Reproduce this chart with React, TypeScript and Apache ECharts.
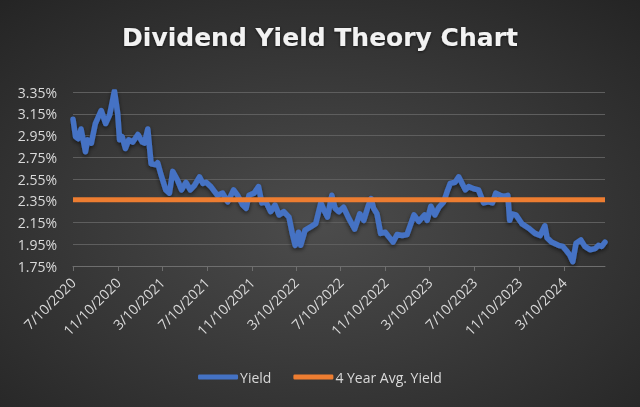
import React, { useEffect, useRef } from "react";
import * as echarts from "echarts";

const dates = [
  "2020-07-10","2020-07-17","2020-07-24","2020-08-01","2020-08-13","2020-08-19","2020-08-29","2020-09-09","2020-09-25","2020-10-07",
  "2020-10-18","2020-10-31","2020-11-09","2020-11-14","2020-11-21","2020-11-30","2020-12-09","2020-12-20","2021-01-03","2021-01-15",
  "2021-01-21","2021-01-30","2021-02-08","2021-02-22","2021-02-26","2021-03-07","2021-03-20","2021-03-30","2021-04-08","2021-04-21",
  "2021-05-02","2021-05-14","2021-05-26","2021-06-06","2021-06-20","2021-06-29","2021-07-08","2021-07-21","2021-08-08","2021-08-22",
  "2021-09-05","2021-09-21","2021-10-02","2021-10-16","2021-10-25","2021-11-02","2021-11-16","2021-11-28","2021-12-07","2021-12-18",
  "2021-12-31","2022-01-12","2022-01-23","2022-02-05","2022-02-19","2022-02-28","2022-03-08","2022-03-17","2022-03-23","2022-04-04",
  "2022-04-19","2022-05-03","2022-05-17","2022-05-26","2022-06-04","2022-06-16","2022-06-25","2022-07-05","2022-07-18","2022-08-01",
  "2022-08-17","2022-08-31","2022-09-11","2022-09-22","2022-10-01","2022-10-08","2022-10-17","2022-10-27","2022-11-09","2022-11-18",
  "2022-11-30","2022-12-11","2022-12-25","2023-01-07","2023-01-26","2023-02-08","2023-02-24","2023-03-03","2023-03-13","2023-03-24",
  "2023-04-04","2023-04-17","2023-04-26","2023-05-05","2023-05-18","2023-05-28","2023-06-06","2023-06-15","2023-06-24","2023-07-08",
  "2023-07-21","2023-08-04","2023-08-17","2023-08-28","2023-09-06","2023-09-18","2023-09-30","2023-10-09","2023-10-14","2023-10-20",
  "2023-10-31","2023-11-16","2023-12-04","2023-12-22","2024-01-05","2024-01-18","2024-01-24","2024-02-05","2024-02-24","2024-03-07",
  "2024-03-17","2024-03-26","2024-04-03","2024-04-12","2024-04-25","2024-05-06","2024-05-20","2024-06-03","2024-06-12","2024-06-21",
  "2024-06-30",
];

const yields = [
  3.10,2.94,2.92,3.01,2.80,2.91,2.88,3.06,3.18,3.06,
  3.14,3.36,3.15,2.91,2.94,2.83,2.91,2.89,2.96,2.89,
  2.88,3.01,2.69,2.68,2.70,2.59,2.45,2.42,2.62,2.54,
  2.45,2.52,2.45,2.49,2.57,2.51,2.52,2.48,2.40,2.42,
  2.34,2.45,2.40,2.31,2.28,2.40,2.42,2.48,2.33,2.34,
  2.25,2.31,2.22,2.25,2.20,2.05,1.94,2.06,1.94,2.08,
  2.11,2.14,2.33,2.26,2.20,2.40,2.28,2.25,2.29,2.19,
  2.09,2.23,2.17,2.29,2.37,2.28,2.23,2.05,2.06,2.02,
  1.97,2.04,2.03,2.04,2.22,2.16,2.22,2.17,2.30,2.22,
  2.29,2.34,2.43,2.51,2.52,2.57,2.51,2.45,2.48,2.46,
  2.45,2.33,2.34,2.33,2.42,2.40,2.39,2.40,2.17,2.23,
  2.22,2.14,2.10,2.05,2.03,2.12,2.01,1.97,1.94,1.93,
  1.89,1.85,1.79,1.96,1.99,1.93,1.90,1.91,1.94,1.93,
  1.97,
];

const avgYield = 2.36;

const tickDates = [
  "2020-07-10","2020-11-10","2021-03-10","2021-07-10","2021-11-10","2022-03-10",
  "2022-07-10","2022-11-10","2023-03-10","2023-07-10","2023-11-10","2024-03-10",
];

const yTicks = [1.75, 1.95, 2.15, 2.35, 2.55, 2.75, 2.95, 3.15, 3.35];

const toTime = (s: string) => {
  const [y, m, d] = s.split("-").map(Number);
  return new Date(y, m - 1, d).getTime();
};

export default function App() {
  const ref = useRef<HTMLDivElement>(null);

  useEffect(() => {
    if (!ref.current) return;
    const chart = echarts.init(ref.current, undefined, { renderer: "svg" });
    const font = "'Open Sans', sans-serif";
    const first = toTime(dates[0]);
    const last = toTime(dates[dates.length - 1]);
    const xTicks = tickDates.map(toTime);
    chart.setOption({
      animation: false,
      backgroundColor: {
        type: "radial",
        x: 0.5,
        y: 0.55,
        r: 0.75,
        colorStops: [
          { offset: 0, color: "#4c4c4c" },
          { offset: 1, color: "#242424" },
        ],
      },
      title: {
        text: "Dividend Yield Theory Chart",
        left: "center",
        top: 20,
        textStyle: {
          color: "#f2f2f2",
          fontFamily: "'DejaVu Sans', sans-serif",
          fontWeight: "bold",
          fontSize: 25,
          textShadowColor: "rgba(0,0,0,0.6)",
          textShadowBlur: 3,
          textShadowOffsetY: 1,
        },
      },
      legend: {
        bottom: 18,
        left: "center",
        itemWidth: 40,
        itemHeight: 5,
        itemGap: 22,
        icon: "roundRect",
        textStyle: { color: "#d9d9d9", fontFamily: font, fontSize: 14, padding: [0, 0, 0, -3] },
        data: ["Yield", "4 Year Avg. Yield"],
      },
      grid: { left: 73, right: 35, top: 92, bottom: 141, containLabel: false },
      xAxis: {
        type: "value",
        min: first,
        max: last,
        scale: true,
        splitLine: { show: false },
        axisLine: { lineStyle: { color: "#6e6e6e", width: 1 } },
        axisTick: {
          show: true,
          length: 5,
          customValues: xTicks,
          lineStyle: { color: "#6e6e6e" },
        },
        axisLabel: {
          customValues: xTicks,
          rotate: 45,
          margin: 14,
          color: "#d9d9d9",
          fontFamily: font,
          fontSize: 14,
          formatter: (v: number) => {
            const d = new Date(v);
            return `${d.getMonth() + 1}/${d.getDate()}/${d.getFullYear()}`;
          },
        },
      },
      yAxis: {
        type: "value",
        min: yTicks[0],
        max: yTicks[yTicks.length - 1],
        axisLine: { show: false },
        axisTick: { show: false, customValues: yTicks },
        splitLine: { show: true, lineStyle: { color: "#5e5e5e", width: 1 } },
        axisLabel: {
          customValues: yTicks,
          margin: 16,
          color: "#d9d9d9",
          fontFamily: font,
          fontSize: 14,
          formatter: (v: number) => `${v.toFixed(2)}%`,
        },
      },
      series: [
        {
          name: "Yield",
          type: "line",
          showSymbol: false,
          symbol: "none",
          data: dates.map((d, i) => [toTime(d), yields[i]]),
          itemStyle: { color: "#4472C4" },
          lineStyle: {
            color: "#4472C4",
            width: 5.5,
            cap: "round",
            join: "round",
            shadowColor: "rgba(0,0,0,0.55)",
            shadowBlur: 4,
            shadowOffsetY: 2,
          },
          z: 3,
        },
        {
          name: "4 Year Avg. Yield",
          type: "line",
          showSymbol: false,
          symbol: "none",
          data: [
            [first, avgYield],
            [last, avgYield],
          ],
          itemStyle: { color: "#ED7D31" },
          lineStyle: {
            color: "#ED7D31",
            width: 5,
          },
          z: 4,
        },
      ],
    });
    return () => chart.dispose();
  }, []);

  return (
    <div
      ref={ref}
      style={{ position: "fixed", left: 0, top: 0, width: 640, height: 407 }}
    />
  );
}
